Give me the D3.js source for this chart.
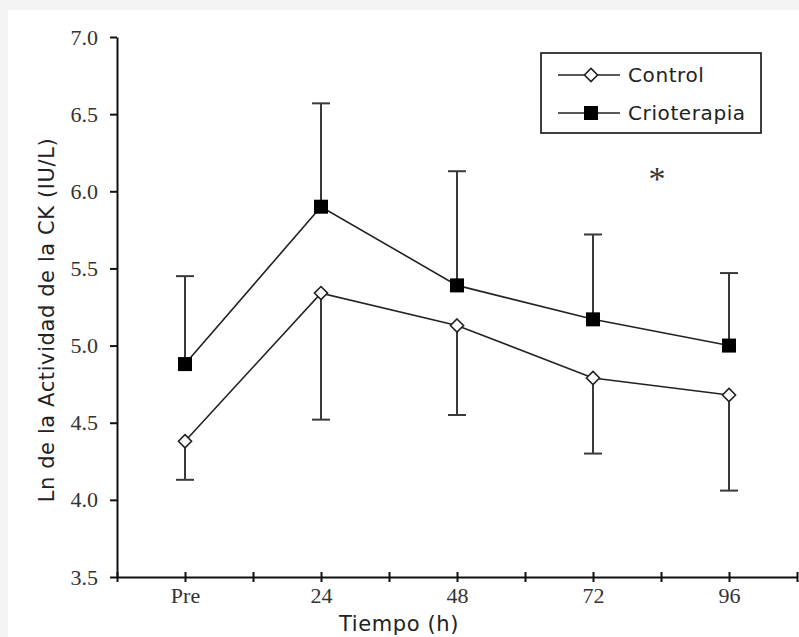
<!DOCTYPE html>
<html>
<head>
<meta charset="utf-8">
<script src="https://cdn.jsdelivr.net/npm/d3@7"></script>
<style>
  body { margin: 0; background: #f4f4f4; }
</style>
</head>
<body>
<svg id="chart" width="799" height="637"></svg>
<script>
// data
const categories = ["Pre", "24", "48", "72", "96"];
const controlMean = [4.38, 5.34, 5.13, 4.79, 4.68];
const controlLow = [4.13, 4.52, 4.55, 4.30, 4.06];
const crioMean = [4.88, 5.90, 5.39, 5.17, 5.00];
const crioHigh = [5.45, 6.57, 6.13, 5.72, 5.47];
const yTicks = [3.5, 4.0, 4.5, 5.0, 5.5, 6.0, 6.5, 7.0];
const seriesNames = ["Control", "Crioterapia"];

const width = 799, height = 637;
const sans = "'DejaVu Sans', Verdana, sans-serif";
const serif = "'Liberation Serif', 'Times New Roman', serif";

const svg = d3.select("#chart");

svg.append("rect").attr("width", width).attr("height", height).attr("fill", "#f4f4f4");
svg.append("rect").attr("x", 8).attr("y", 10).attr("width", width - 8).attr("height", height - 10).attr("fill", "white");

const x = d3.scaleLinear().domain([0, 10]).range([117, 797]);
const y = d3.scaleLinear().domain([3.5, 7.0]).range([577, 37]);
const xPos = i => x(2 * i + 1);

// y axis
const yAxis = d3.axisLeft(y)
    .tickValues(yTicks)
    .tickFormat(d3.format(".1f"))
    .tickSizeInner(7)
    .tickSizeOuter(0)
    .tickPadding(12);

svg.append("g")
    .attr("transform", "translate(" + x(0) + ",0)")
    .call(yAxis)
    .call(g => g.select(".domain").attr("stroke", "#111").attr("stroke-width", 2))
    .call(g => g.selectAll(".tick line").attr("stroke", "#111").attr("stroke-width", 2))
    .call(g => g.selectAll(".tick text")
        .style("font-family", serif)
        .style("font-size", "22px")
        .attr("fill", "#333"));

// x axis
const xAxis = d3.axisBottom(x)
    .tickValues(d3.range(0, 11))
    .tickFormat(d => d % 2 === 1 ? categories[(d - 1) / 2] : "")
    .tickSizeInner(5)
    .tickSizeOuter(0);

svg.append("g")
    .attr("transform", "translate(0," + y(3.5) + ")")
    .call(xAxis)
    .call(g => g.select(".domain").attr("stroke", "#111").attr("stroke-width", 2))
    .call(g => g.selectAll(".tick line").attr("y1", -5).attr("y2", 5).attr("stroke", "#111").attr("stroke-width", 2))
    .call(g => g.selectAll(".tick text")
        .attr("y", 26)
        .attr("dy", 0)
        .style("font-family", serif)
        .style("font-size", "22px")
        .attr("fill", "#333"));

// axis titles
svg.append("text")
    .attr("x", 399)
    .attr("y", 631)
    .attr("text-anchor", "middle")
    .style("font-family", sans)
    .style("font-size", "21px")
    .style("letter-spacing", "0.6px")
    .attr("fill", "#222")
    .text("Tiempo (h)");

svg.append("text")
    .attr("transform", "translate(54,320) rotate(-90)")
    .attr("text-anchor", "middle")
    .style("font-family", sans)
    .style("font-size", "21px")
    .style("letter-spacing", "0.6px")
    .attr("fill", "#222")
    .text("Ln de la Actividad de la CK (IU/L)");

// error bars
const capW = 9;
function errorBars(means, ends, cls) {
    const g = svg.append("g").attr("class", cls);
    means.forEach((m, i) => {
        const cx = xPos(i);
        g.append("line")
            .attr("x1", cx).attr("x2", cx)
            .attr("y1", y(m)).attr("y2", y(ends[i]))
            .attr("stroke", "#3a3a3a").attr("stroke-width", 2);
        g.append("line")
            .attr("x1", cx - capW).attr("x2", cx + capW)
            .attr("y1", y(ends[i])).attr("y2", y(ends[i]))
            .attr("stroke", "#3a3a3a").attr("stroke-width", 2);
    });
}
errorBars(controlMean, controlLow, "err-control");
errorBars(crioMean, crioHigh, "err-crio");

// lines
const lineGen = d3.line().x((d, i) => xPos(i)).y(d => y(d));
[controlMean, crioMean].forEach(series => {
    svg.append("path")
        .datum(series)
        .attr("d", lineGen)
        .attr("fill", "none")
        .attr("stroke", "#222")
        .attr("stroke-width", 1.6);
});

// markers
const diamond = d3.symbol().type(d3.symbolDiamond2).size(110);
svg.append("g").selectAll("path")
    .data(controlMean)
    .join("path")
    .attr("transform", (d, i) => "translate(" + xPos(i) + "," + y(d) + ")")
    .attr("d", diamond)
    .attr("fill", "white")
    .attr("stroke", "#222")
    .attr("stroke-width", 1.6);

const sq = 14;
svg.append("g").selectAll("rect")
    .data(crioMean)
    .join("rect")
    .attr("x", (d, i) => xPos(i) - sq / 2)
    .attr("y", d => y(d) - sq / 2)
    .attr("width", sq)
    .attr("height", sq)
    .attr("fill", "black");

// significance mark
svg.append("text")
    .attr("x", 657)
    .attr("y", 190)
    .attr("text-anchor", "middle")
    .style("font-family", serif)
    .style("font-size", "34px")
    .attr("fill", "#333")
    .text("*");

// legend
const legend = svg.append("g");
legend.append("rect")
    .attr("x", 541).attr("y", 53).attr("width", 220).attr("height", 80)
    .attr("fill", "white").attr("stroke", "#111").attr("stroke-width", 1.6);

const rowY = [75, 113];
seriesNames.forEach((name, i) => {
    legend.append("line")
        .attr("x1", 558).attr("x2", 620)
        .attr("y1", rowY[i]).attr("y2", rowY[i])
        .attr("stroke", "#222").attr("stroke-width", 1.6);
    if (i === 0) {
        legend.append("path")
            .attr("transform", "translate(591," + rowY[i] + ")")
            .attr("d", diamond)
            .attr("fill", "white").attr("stroke", "#222").attr("stroke-width", 1.6);
    } else {
        legend.append("rect")
            .attr("x", 591 - sq / 2).attr("y", rowY[i] - sq / 2)
            .attr("width", sq).attr("height", sq)
            .attr("fill", "black");
    }
    legend.append("text")
        .attr("x", 628)
        .attr("y", rowY[i])
        .attr("dy", "0.36em")
        .style("font-family", sans)
        .style("font-size", "20px")
        .style("letter-spacing", "0.6px")
        .attr("fill", "#222")
        .text(name);
});
</script>
</body>
</html>
